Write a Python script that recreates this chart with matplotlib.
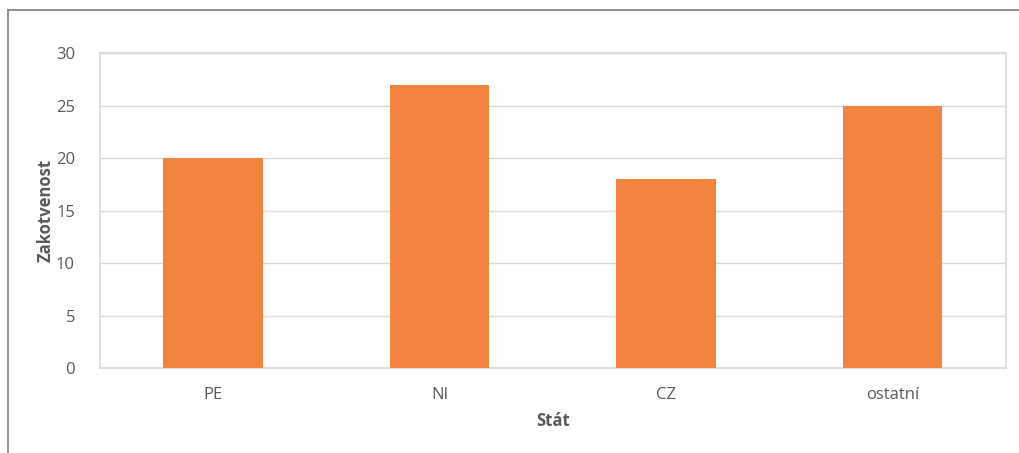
import matplotlib
matplotlib.use("Agg")
import matplotlib.pyplot as plt
from matplotlib.lines import Line2D
import numpy as np

plt.rcParams["font.family"] = ["Open Sans", "DejaVu Sans"]

# data
categories = ["PE", "NI", "CZ", "ostatní"]
values = [20, 27, 18, 25]

BAR = "#F28440"
TXT = "#595959"
GRID = "#D9D9D9"

fig = plt.figure(figsize=(10.19, 4.53), dpi=100)
ax = fig.add_axes([0.0981, 0.1876, 0.889, 0.6954])

x = np.arange(len(categories))
ax.bar(x, values, width=0.44, color=BAR, zorder=3)

ax.set_xlim(-0.5, len(categories) - 0.5)
ax.set_ylim(0, 30)
ax.set_yticks(range(0, 31, 5))
ax.set_xticks(x)
ax.set_xticklabels(categories)
ax.yaxis.grid(True, color=GRID, linewidth=1, zorder=0)
ax.set_axisbelow(True)
for s in ax.spines.values():
    s.set_color(GRID)
    s.set_linewidth(1.2)
ax.tick_params(axis="both", length=0, labelsize=12, colors=TXT)
ax.tick_params(axis="y", pad=18)
ax.tick_params(axis="x", pad=14)

ax.set_xlabel("Stát", fontsize=12, fontweight="bold", color=TXT, labelpad=6)
ax.set_ylabel("Zakotvenost", fontsize=12, fontweight="bold", color=TXT, labelpad=1)

# outer frame (left and top only)
fig.add_artist(Line2D([8 / 1019, 8 / 1019], [0, 1 - 10 / 453],
                      transform=fig.transFigure, color="#7F7F7F", linewidth=1.2))
fig.add_artist(Line2D([8 / 1019, 1], [1 - 10 / 453, 1 - 10 / 453],
                      transform=fig.transFigure, color="#7F7F7F", linewidth=1.2))

fig.savefig("out.png", dpi=100)
